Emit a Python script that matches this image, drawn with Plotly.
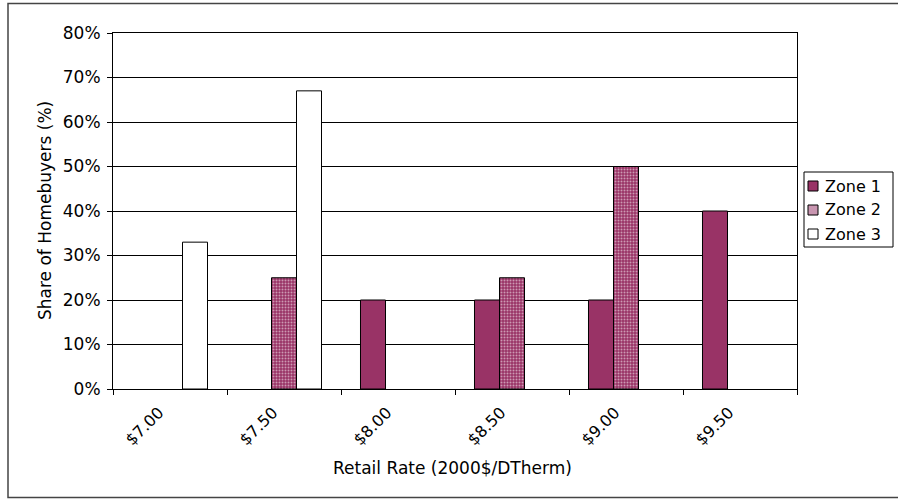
import plotly.graph_objects as go

# Retail rate categories and share of homebuyers (%) per zone
rates = ["$7.00", "$7.50", "$8.00", "$8.50", "$9.00", "$9.50"]
zone1 = [None, None, 20, 20, 20, 40]
zone2 = [None, 25, None, 25, 50, None]
zone3 = [33, 67, None, None, None, None]
zone_names = ["Zone 1", "Zone 2", "Zone 3"]

W, H = 898, 500
L, R, T, B = 113, 101, 33, 111
pw, ph = W - L - R, H - T - B

FONT = "DejaVu Sans"
FS = 17
MAROON = "#993366"
PINK = "#C895B0"

fig = go.Figure()
fig.add_trace(go.Bar(
    x=rates, y=zone1, name=zone_names[0],
    marker=dict(color=MAROON, line=dict(color="black", width=1)),
))
fig.add_trace(go.Bar(
    x=rates, y=zone2, name=zone_names[1],
    marker=dict(color=MAROON, line=dict(color="black", width=1),
                pattern=dict(shape=".", fgcolor="white", bgcolor=MAROON,
                             size=3, solidity=0.35)),
))
fig.add_trace(go.Bar(
    x=rates, y=zone3, name=zone_names[2],
    marker=dict(color="white", line=dict(color="black", width=1)),
))

def px_x(p):
    return (p - L) / pw

def px_y(p):
    return 1 - (p - T) / ph

# Compact boxed legend drawn on the paper to the right of the plot
shapes = [
    dict(type="rect", xref="paper", yref="paper",
         x0=px_x(8), x1=px_x(905), y0=px_y(497.5), y1=px_y(3.5),
         line=dict(color="#444444", width=1.5), layer="below"),
    dict(type="rect", xref="paper", yref="paper",
         x0=px_x(804), x1=px_x(893), y0=px_y(247), y1=px_y(172),
         line=dict(color="black", width=1), fillcolor="white"),
]
annotations = []
swatch_fill = [MAROON, PINK, "white"]
for i, name in enumerate(zone_names):
    cy = 186 + 24 * i
    shapes.append(dict(type="rect", xref="paper", yref="paper",
                       x0=px_x(808), x1=px_x(818), y0=px_y(cy + 5), y1=px_y(cy - 5),
                       line=dict(color="black", width=1), fillcolor=swatch_fill[i]))
    annotations.append(dict(text=name, xref="paper", yref="paper",
                            x=px_x(823), y=px_y(cy), xanchor="left", yanchor="middle",
                            showarrow=False, font=dict(family=FONT, size=FS - 1)))

annotations += [
    dict(text="Retail Rate (2000$/DTherm)", xref="paper", yref="paper",
         x=px_x(452), y=px_y(468), xanchor="center", yanchor="middle",
         showarrow=False, font=dict(family=FONT, size=FS)),
    dict(text="Share of Homebuyers (%)", xref="paper", yref="paper",
         x=px_x(45), y=px_y(211), xanchor="center", yanchor="middle",
         textangle=-90, showarrow=False, font=dict(family=FONT, size=FS)),
]

fig.update_layout(
    width=W, height=H,
    margin=dict(l=L, r=R, t=T, b=B, pad=0, autoexpand=False),
    paper_bgcolor="white", plot_bgcolor="white",
    font=dict(family=FONT, size=FS, color="black"),
    barmode="group", bargap=0.342, bargroupgap=0,
    showlegend=False,
    xaxis=dict(
        type="category", showline=True, linecolor="black", linewidth=1,
        mirror=True, ticks="outside", ticklen=5, tickcolor="black",
        tickson="boundaries", tickangle=-45,
        ticklabelstandoff=7, ticklabelshift=-11,
        tickfont=dict(family=FONT, size=FS - 1),
        showgrid=False,
    ),
    yaxis=dict(
        range=[0, 80], dtick=10, ticksuffix="%",
        showline=True, linecolor="black", linewidth=1, mirror=True,
        ticks="outside", ticklen=5, tickcolor="black",
        ticklabelstandoff=3,
        showgrid=True, gridcolor="black", gridwidth=1,
        zeroline=False, tickfont=dict(family=FONT, size=FS),
    ),
    annotations=annotations,
    shapes=shapes,
)

fig.write_html("out.html")
